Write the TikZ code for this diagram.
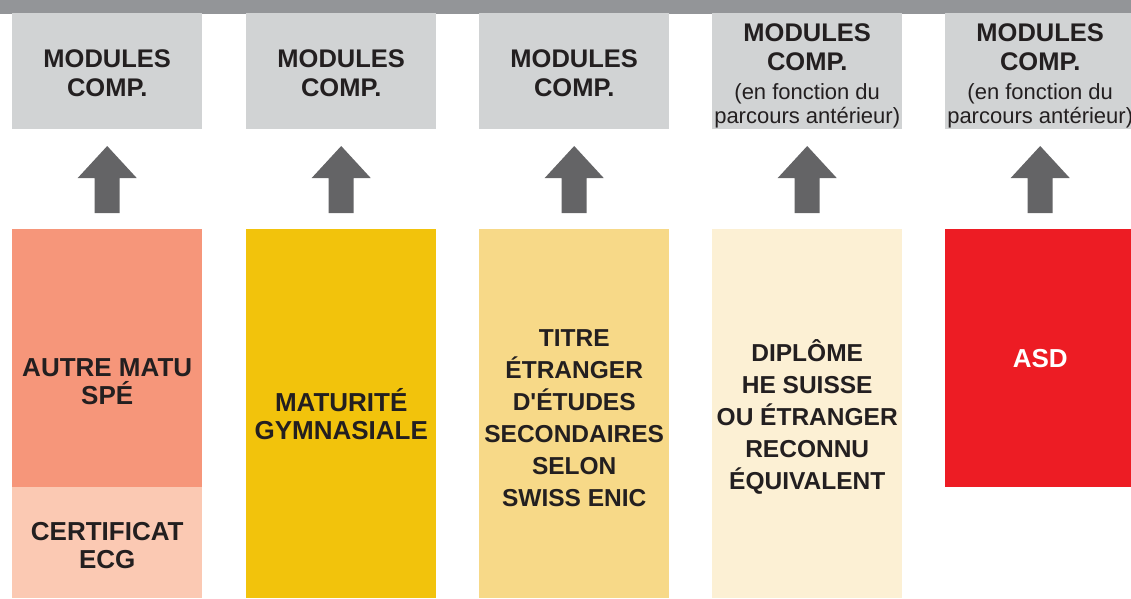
\documentclass[tikz,border=0pt]{standalone}
\usepackage{fontspec}
\setmainfont{Liberation Sans}
\usetikzlibrary{positioning,calc}
\definecolor{bargray}{HTML}{939598}
\definecolor{boxgray}{HTML}{D1D3D4}
\definecolor{arrowgray}{HTML}{646466}
\definecolor{salmon}{HTML}{F6967A}
\definecolor{peach}{HTML}{FBC9B3}
\definecolor{gold}{HTML}{F2C30C}
\definecolor{sand}{HTML}{F7D988}
\definecolor{cream}{HTML}{FCF0D4}
\definecolor{asdred}{HTML}{ED1C24}
\definecolor{textdark}{HTML}{231F20}
\tikzset{
    modbox/.style={fill=boxgray, minimum width=190pt, minimum height=116pt, inner sep=0pt, anchor=north west},
    modtext/.style={text=textdark, inner sep=0pt, align=center, font=\bfseries\fontsize{25.5}{29}\selectfont},
    pathbox/.style={minimum width=190pt, inner sep=0pt, anchor=north west},
    pathtext/.style={text=textdark, inner sep=0pt, align=center, font=\bfseries\fontsize{26}{28}\selectfont},
    longtext/.style={pathtext, font=\bfseries\fontsize{24.5}{32}\selectfont},
    upfill/.style={fill=arrowgray}
}
\newcommand{\notefont}{\normalfont\fontsize{22}{24}\selectfont}

\begin{document}
\begin{tikzpicture}[x=1pt,y=-1pt]
    \clip (0,0) rectangle (1131,598);
    \fill[bargray] (0,0) rectangle (1131,14);
    \node[modbox] (mod1) at (12,13) {};
    \node[modbox] (mod2) at (246,13) {};
    \node[modbox] (mod3) at (479,13) {};
    \node[modbox] (mod4) at (712,13) {};
    \node[modbox] (mod5) at (945,13) {};
    \foreach \i in {1,2,3}
        \node[modtext] (modlabel\i) at ($(mod\i.center)+(0,2)$) {MODULES\\COMP.};
    \foreach \i in {4,5}
        \node[modtext] (modlabel\i) at ($(mod\i.center)+(0,4.5)$)
            {MODULES\\COMP.\\\notefont (en fonction du\\[-4.5pt]\notefont parcours antérieur)};
    \node[pathbox, fill=salmon, minimum height=258pt] (low1) at (12,229) {};
    \node[pathbox, fill=peach, minimum height=111pt] (ecg) at (12,487) {};
    \node[pathbox, fill=gold, minimum height=369pt] (low2) at (246,229) {};
    \node[pathbox, fill=sand, minimum height=369pt] (low3) at (479,229) {};
    \node[pathbox, fill=cream, minimum height=369pt] (low4) at (712,229) {};
    \node[pathbox, fill=asdred, minimum height=258pt] (low5) at (945,229) {};
    \node[pathtext] (autre) at ($(low1.center)+(0,23)$) {AUTRE MATU\\SPÉ};
    \node[pathtext] (ecglabel) at ($(ecg.center)+(0,3)$) {CERTIFICAT\\ECG};
    \node[pathtext] (matu) at (low2.center) {MATURITÉ\\GYMNASIALE};
    \node[longtext] (titre) at ($(low3.center)+(0,4)$) {TITRE\\ÉTRANGER\\D\textquotesingle ÉTUDES\\SECONDAIRES\\SELON\\SWISS ENIC};
    \node[longtext] (diplome) at ($(low4.center)+(0,3)$) {DIPLÔME\\HE SUISSE\\OU ÉTRANGER\\RECONNU\\ÉQUIVALENT};
    \node[pathtext, text=white] (asd) at (low5.center) {ASD};
    \foreach \i in {1,...,5}
        \fill[upfill] ($(low\i.north)+(-12.5,-16)$) -- ($(low\i.north)+(-12.5,-51)$)
            -- ($(low\i.north)+(-29.5,-51)$) -- ($(low\i.north)+(0,-83)$)
            -- ($(low\i.north)+(29.5,-51)$) -- ($(low\i.north)+(12.5,-51)$)
            -- ($(low\i.north)+(12.5,-16)$) -- cycle;
\end{tikzpicture}
\end{document}
